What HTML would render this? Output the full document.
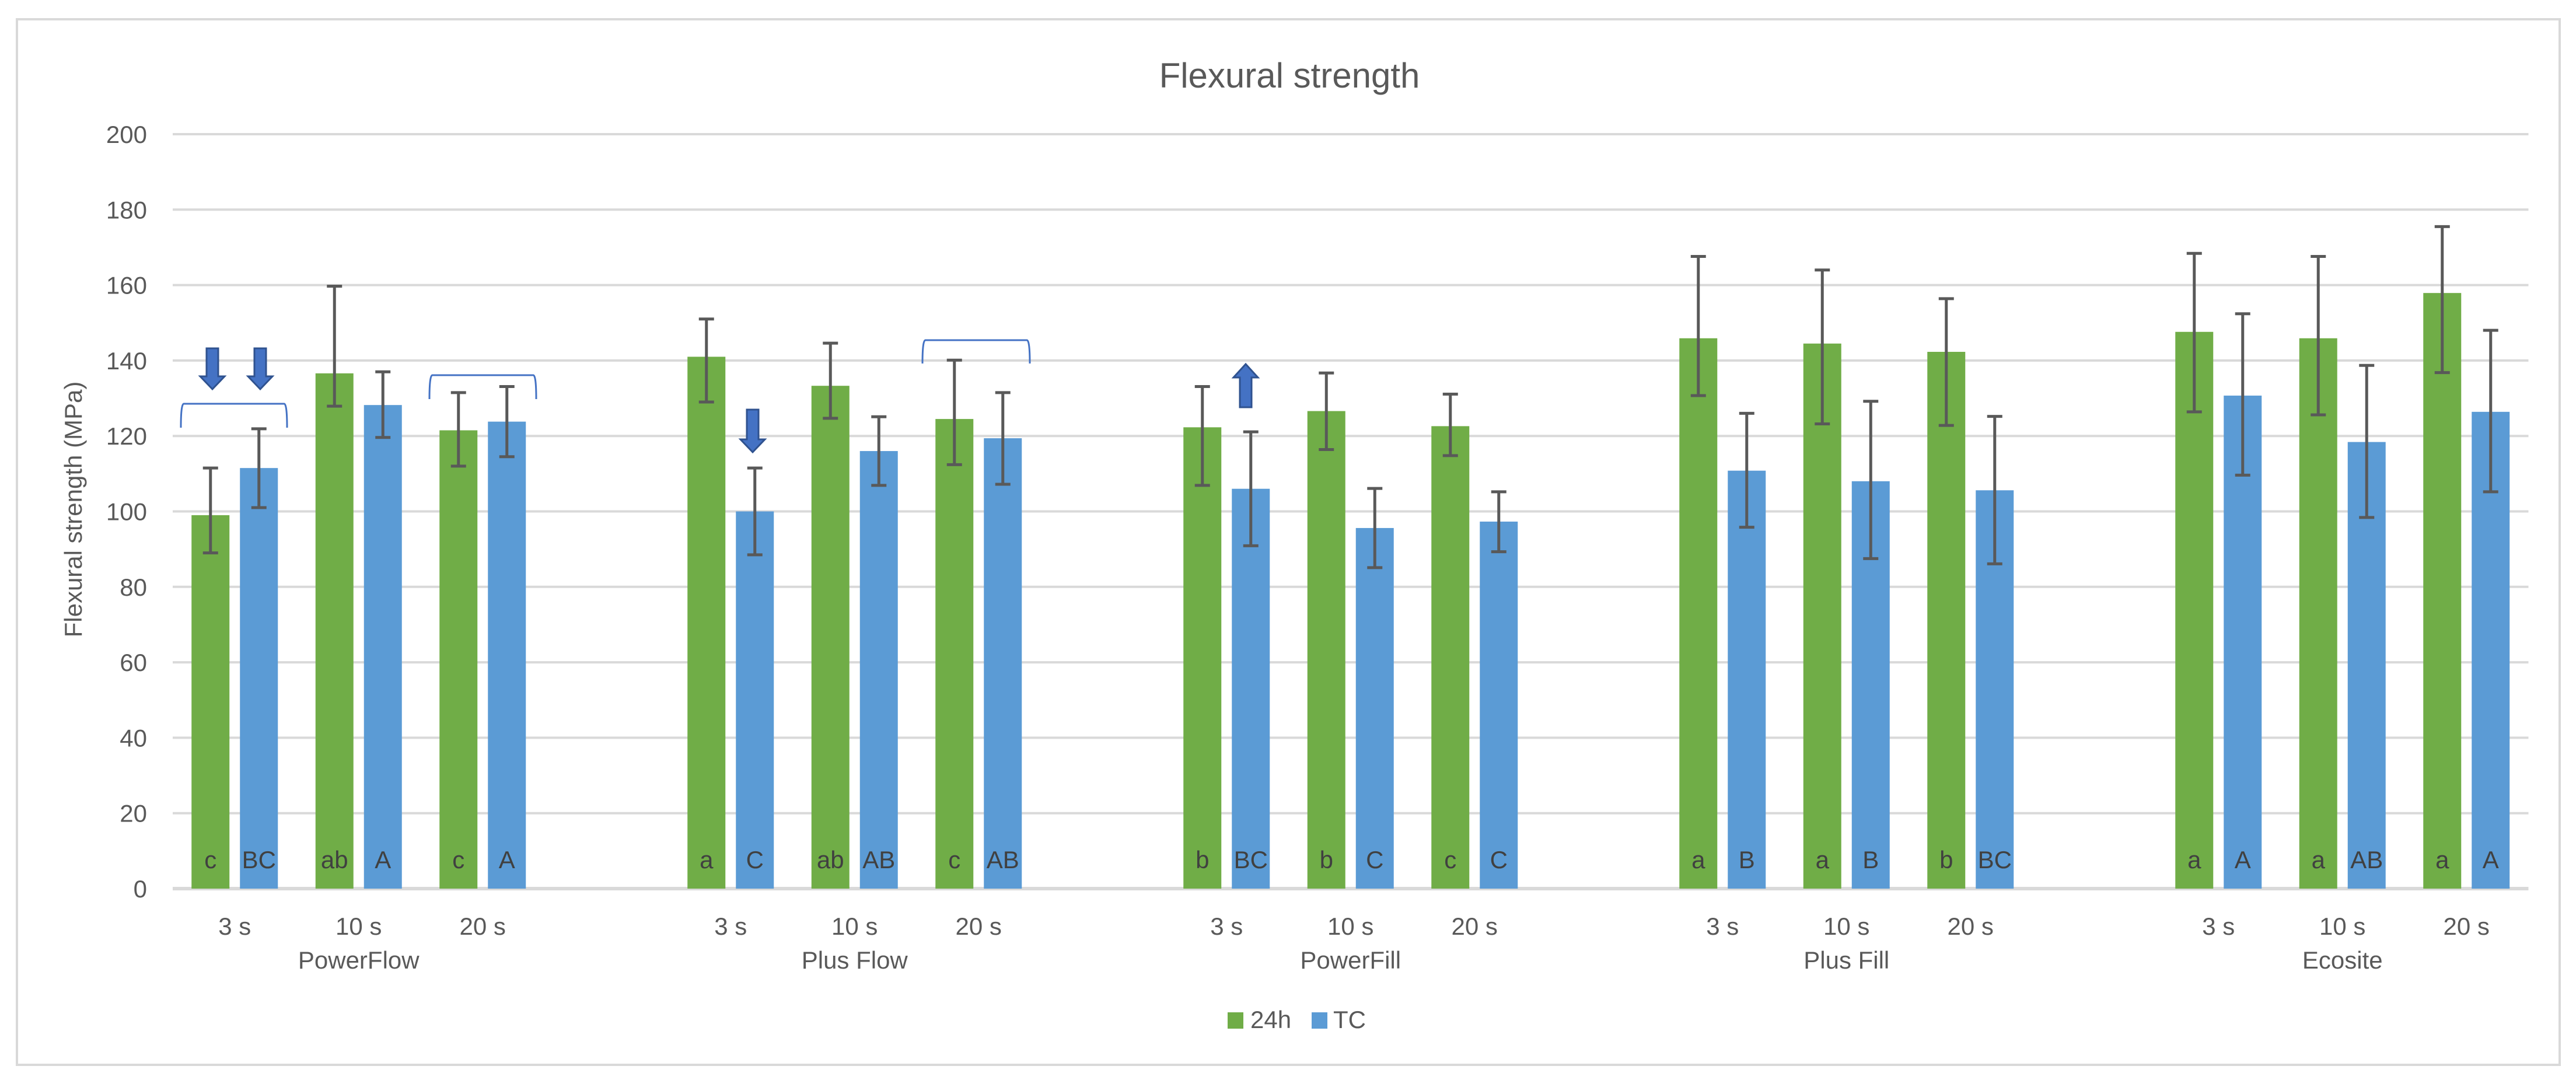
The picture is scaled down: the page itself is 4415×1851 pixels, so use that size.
<!DOCTYPE html>
<html><head><meta charset="utf-8"><style>
html,body{margin:0;padding:0;background:#fff;}
svg{display:block;font-family:"Liberation Sans",sans-serif;}
</style></head><body>
<svg id="chart" width="4415" height="1851" viewBox="0 0 4415 1851" xmlns="http://www.w3.org/2000/svg">
<rect x="29" y="33" width="4358" height="1792" fill="#fff" stroke="#D9D9D9" stroke-width="4"/>
<text x="2210" y="150" text-anchor="middle" font-size="60" fill="#595959">Flexural strength</text>
<text x="0" y="0" transform="translate(140,873) rotate(-90)" text-anchor="middle" font-size="42" fill="#595959">Flexural strength (MPa)</text>
<g id="grid"></g><g id="bars"></g><g id="xlabels"></g><g id="annot"></g>
<g>
<rect x="2104" y="1735" width="27" height="28" fill="#70AD47"/>
<text x="2143" y="1762" font-size="42" fill="#595959">24h</text>
<rect x="2248" y="1735" width="27" height="28" fill="#5B9BD5"/>
<text x="2285" y="1762" font-size="42" fill="#595959">TC</text>
</g>
</svg>
<script>
const categories = ["PowerFlow","Plus Flow","PowerFill","Plus Fill","Ecosite"];
const subgroups = ["3 s","10 s","20 s"];
const yTicks = [0,20,40,60,80,100,120,140,160,180,200];
const mean24h  = [99,136.6,121.5, 141,133.3,124.5, 122.3,126.6,122.6, 145.9,144.5,142.3, 147.6,145.9,157.9];
const errUp24h = [12.5,23.1,10, 10,11.3,15.6, 10.8,10.1,8.5, 21.7,19.5,14.1, 20.8,21.7,17.6];
const errDn24h = [10,8.7,9.5, 12,8.6,12.1, 15.4,10.2,7.8, 15.2,21.3,19.5, 21.2,20.3,21.1];
const meanTC   = [111.5,128.2,123.8, 100,116,119.4, 106,95.6,97.3, 110.8,108,105.6, 130.7,118.4,126.4];
const errUpTC  = [10.4,8.8,9.3, 11.5,9.1,12.1, 15.1,10.5,7.9, 15.2,21.2,19.6, 21.7,20.3,21.6];
const errDnTC  = [10.5,8.6,9.3, 11.5,9.1,12.2, 15.1,10.5,8, 15,20.5,19.5, 21.1,20,21.2];
const letters24h = ["c","ab","c","a","ab","c","b","b","c","a","a","b","a","a","a"];
const lettersTC  = ["BC","A","A","C","AB","AB","BC","C","C","B","B","BC","A","AB","A"];

const NS="http://www.w3.org/2000/svg";
const X0=296, SLOT=212.5, NSLOT=19, Y0=1523, PXU=6.465;
function y(v){return Y0 - v*PXU;}
function slotCenter(i){return X0 + SLOT*(i+0.5);}
function idx(k){return Math.floor(k/3)*4 + (k%3);}
function mk(tag,attrs,parent){const e=document.createElementNS(NS,tag);for(const k in attrs)e.setAttribute(k,attrs[k]);parent.appendChild(e);return e;}
const grid=document.getElementById('grid'), bars=document.getElementById('bars'), xl=document.getElementById('xlabels'), an=document.getElementById('annot');
const xEnd = X0+SLOT*NSLOT;
yTicks.forEach(t=>{
  const l=mk('line',{x1:X0,x2:xEnd,y1:y(t),y2:y(t),stroke:'#D9D9D9','stroke-width':t===0?6:4},grid);
  
  
  const tx=mk('text',{x:252,y:y(t)+15,'text-anchor':'end','font-size':42,fill:'#595959'},grid);
  tx.textContent=t;
  
  
});
function drawBar(cx,val,up,dn,color,letter,name){
  const r=mk('rect',{x:cx-32.5,y:y(val),width:65,height:y(0)-y(val),fill:color},bars);
  
  
  const lt=mk('text',{x:cx,y:1488,'text-anchor':'middle','font-size':42,fill:'#404040'},bars);
  lt.textContent=letter;
  
  
  const g=mk('g',{stroke:'#595959','stroke-width':5},bars);
  
  
  mk('line',{x1:cx,x2:cx,y1:y(val+up),y2:y(val-dn)},g);
  mk('line',{x1:cx-13,x2:cx+13,y1:y(val+up),y2:y(val+up)},g);
  mk('line',{x1:cx-13,x2:cx+13,y1:y(val-dn),y2:y(val-dn)},g);
}
for(let k=0;k<15;k++){
  const c=slotCenter(idx(k));
  const base=categories[Math.floor(k/3)].toLowerCase().replace(/ /g,'-')+'-'+subgroups[k%3].replace(' ','');
  drawBar(c-41.5,mean24h[k],errUp24h[k],errDn24h[k],'#70AD47',letters24h[k],'bar-24h-'+base);
  drawBar(c+41.5,meanTC[k],errUpTC[k],errDnTC[k],'#5B9BD5',lettersTC[k],'bar-tc-'+base);
  const t=mk('text',{x:c,y:1602,'text-anchor':'middle','font-size':42,fill:'#595959'},xl);
  t.textContent=subgroups[k%3];
  
  
}
categories.forEach((cat,ci)=>{
  const t=mk('text',{x:slotCenter(ci*4+1),y:1660,'text-anchor':'middle','font-size':42,fill:'#595959'},xl);
  t.textContent=cat;
  
  
});
function bracket(x1,x2,top,bot,name){
  const p=mk('path',{d:`M${x1} ${bot} Q${x1} ${top} ${x1+5} ${top} L${x2-5} ${top} Q${x2} ${top} ${x2} ${bot}`,fill:'none',stroke:'#4472C4','stroke-width':3},an);
  
  
}
bracket(310,492,692,733,'bracket-powerflow-3s');
bracket(736,919,643,684,'bracket-powerflow-20s');
bracket(1581,1765,583,623,'bracket-plusflow-20s');
function arrowDown(cx,top,headY,tip,name){
  const p=mk('path',{d:`M${cx-10} ${top} L${cx+10} ${top} L${cx+10} ${headY} L${cx+21} ${headY} L${cx} ${tip} L${cx-21} ${headY} L${cx-10} ${headY} Z`,fill:'#4472C4',stroke:'#2F528F','stroke-width':3},an);
  
  
}
arrowDown(364,597,645,667,'arrow-down-powerflow-24h');
arrowDown(446,597,645,667,'arrow-down-powerflow-tc');
arrowDown(1290,702,753,775,'arrow-down-plusflow-tc');
arrowDown(2135,698,647,624,'arrow-up-powerfill-tc');
</script>
</body></html>
